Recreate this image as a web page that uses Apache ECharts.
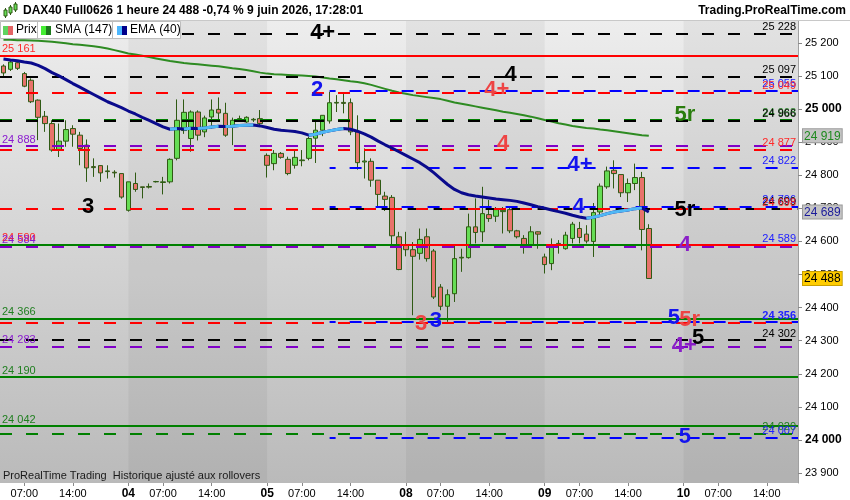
<!DOCTYPE html>
<html><head><meta charset="utf-8">
<script src="https://cdn.jsdelivr.net/npm/echarts@6/dist/echarts.min.js"></script>
<style>html,body{margin:0;padding:0;background:#fff}#c{width:850px;height:500px}</style>
</head><body><div id="c"></div>
<script>
// ---------- DATA ----------
const sessionDays = ['03','04','05','08','09','10'];
const firstHourDay0 = 4, sessionOpen = 2, sessionClose = 21;
const visibleSlots = 115;
const xLabelHours = [7, 14];

const opens  = [25130,25120,25140,25107,25087,25027,24978,24956,24878,24903,24941,24921,24891,24826,24829,24813,24809,24805,24694,24775,24765,24766,24780,24778,24780,24851,24935,24911,24991,24931,24976,24999,24987,24946,24969,24961,24967,24971,24860,24835,24866,24848,24830,24844,24851,24912,24936,24964,25018,25020,25019,24931,24840,24842,24785,24737,24733,24614,24590,24575,24564,24614,24571,24462,24404,24442,24550,24551,24644,24629,24681,24676,24690,24696,24632,24609,24588,24629,24553,24533,24594,24578,24609,24639,24622,24600,24689,24765,24815,24802,24747,24775,24793,24639];
const closes = [25109,25142,25123,25069,25022,24975,24956,24876,24903,24938,24924,24881,24822,24823,24807,24811,24807,24734,24780,24757,24763,24764,24781,24780,24848,24966,24990,24991,24921,24973,24997,24988,24921,24966,24971,24975,24969,24956,24830,24866,24854,24805,24854,24846,24911,24936,24981,25019,25020,25017,24931,24838,24843,24785,24742,24727,24617,24515,24575,24555,24606,24548,24432,24404,24439,24548,24552,24644,24627,24684,24669,24696,24694,24632,24614,24588,24629,24622,24530,24583,24589,24619,24652,24612,24601,24687,24767,24813,24805,24747,24775,24793,24636,24488];
const lows   = [25100,25115,25118,25066,25018,24906,24931,24871,24855,24886,24886,24830,24780,24795,24780,24790,24793,24729,24690,24750,24730,24760,24778,24742,24775,24845,24925,24871,24905,24915,24941,24966,24916,24891,24962,24958,24961,24946,24793,24815,24850,24800,24820,24827,24845,24837,24918,24956,24991,24987,24921,24817,24790,24765,24702,24692,24588,24513,24555,24377,24545,24539,24426,24392,24357,24417,24508,24548,24594,24598,24659,24659,24624,24625,24609,24563,24583,24578,24503,24513,24563,24575,24594,24594,24594,24553,24680,24759,24760,24734,24719,24755,24573,24488];
const highs  = [25135,25150,25145,25112,25093,25029,24994,24966,24956,24966,24951,24931,24908,24851,24830,24830,24815,24805,24780,24808,24765,24775,24783,24795,24851,25029,25029,24996,24996,24980,25029,25035,25019,24974,24980,24978,24973,24997,24866,24876,24870,24856,24876,24876,24916,24961,24981,25052,25042,25047,25032,24981,24881,24851,24785,24750,24740,24629,24629,24598,24639,24639,24577,24471,24455,24588,24578,24684,24730,24765,24725,24704,24704,24704,24635,24619,24646,24630,24563,24609,24604,24629,24659,24659,24649,24716,24775,24826,24845,24802,24790,24835,24810,24652];

const sma147 = [25209,25209,25208,25208,25207,25206,25205,25203,25201,25199,25196,25194,25192,25190,25187,25183,25178,25173,25168,25165,25161,25157,25153,25149,25145,25142,25139,25137,25135,25133,25131,25129,25126,25123,25121,25118,25114,25110,25107,25105,25104,25103,25102,25101,25100,25098,25095,25092,25090,25087,25084,25082,25078,25073,25067,25061,25055,25050,25046,25042,25039,25036,25033,25030,25025,25020,25016,25012,25008,25004,25000,24996,24992,24989,24985,24981,24977,24972,24967,24962,24957,24953,24949,24946,24943,24941,24938,24936,24933,24930,24927,24924,24921,24919];
const ema40 = [25151,25148,25146,25142,25139,25132,25122,25110,25100,25089,25077,25066,25055,25044,25033,25022,25013,25004,24994,24985,24975,24966,24956,24946,24939,24941,24940,24942,24941,24943,24946,24948,24947,24948,24950,24951,24952,24949,24944,24939,24936,24934,24932,24928,24921,24924,24930,24934,24938,24941,24939,24933,24925,24915,24903,24892,24882,24871,24860,24849,24838,24824,24808,24790,24772,24757,24747,24741,24737,24734,24731,24728,24726,24724,24721,24716,24711,24705,24700,24695,24690,24685,24679,24674,24670,24673,24678,24684,24689,24692,24695,24699,24701,24689];

const yTickValues = [23900,24000,24100,24200,24300,24400,24500,24600,24700,24800,24900,25000,25100,25200];

// horizontal levels
const levelValues = [25228,25161,25097,25055,25049,24968,24966,24888,24877,24822,24706,24699,24698,24589,24589,24590,24584,24366,24356,24354,24302,24283,24190,24042,24020,24007];
const levelColor  = ['k','r','k','b','r','g','k','p','r','b','b','k','r','b','g','r','p','g','b','r','k','p','g','g','g','b'];
const levelKind   = ['d','s','d','d','d','d','d','d','d','d','d','d','d','d','s','h','d','s','d','d','d','d','s','s','d','d'];
const levelFrom   = [null,null,null,47,null,null,null,null,null,47,47,47,null,47,null,null,null,null,47,null,null,null,null,null,null,47];
const levelSide   = ['R','L','R','R','R','R','R','L','R','R','R','R','R','R','','L','L','L','R','','R','L','L','L','R','R'];
// red solid segments at 24 590 (from slot, to slot)
const redSegValue = 24590;
const redSegs = [[57.1,67.1],[78.2,81.2],[93.2,114.5]];

// letter annotations
const annSlots  = [46.0, 45.2, 73.1, 71.1, 72.0, 12.2, 98.2, 83.1, 82.9, 98.2, 98.2, 60.2, 62.3, 96.6, 98.9, 98.1, 100.1, 98.2];
const annValues = [25229,25058,25102,25057,24895,24703,24983,24830,24705,24696,24590,24351,24359,24369,24362,24283,24307,24008];
const annTexts  = ['4+','2','4','4+','4','3','5r','4+','4','5r','4','3','3','5','5r','4+','5','5'];
const annColors = ['k','b','k','r','r','k','g','b','b','k','p','r','b','b','r','p','k','b'];

// ---------- BUILD ----------
const lineCol = {k:'#000000', r:'#ff0000', b:'#0000ff', g:'#008000', p:'#8000c8'};
const textCol = {k:'#000000', r:'#ff2a2a', b:'#2020ff', g:'#1f7f1f', p:'#8a1ad0'};
const annCol  = {k:'#000000', r:'#ee4444', b:'#1414ee', g:'#2a7d0e', p:'#8a1ec8'};
const FONT = '"Liberation Sans", Arial, sans-serif';
const fmt = v => { const s = String(Math.round(v)); return s.slice(0, s.length - 3) + ' ' + s.slice(-3); };

const cats = [];
sessionDays.forEach((d, di) => {
  for (let h = (di === 0 ? firstHourDay0 : sessionOpen); h <= sessionClose; h++) cats.push(d + '|' + h);
});
cats.length = visibleSlots;
const hourOf = c => +c.split('|')[1];
const dayOf = c => c.split('|')[0];

const candles = opens.map((o, i) => [o, closes[i], lows[i], highs[i]]);

// rising EMA pieces drawn light blue
const emaLight = [];
for (let i = 1; i < ema40.length; i++) {
  if (ema40[i] > ema40[i - 1]) {
    const prevRising = i > 1 && ema40[i - 1] > ema40[i - 2];
    if (!prevRising) { emaLight.push([i - 0.5, '-']); emaLight.push([i - 1, ema40[i - 1]]); }
    emaLight.push([i, ema40[i]]);
  }
}

// day bands (darker on alternate days)
const dayStart = sessionDays.map(d => cats.findIndex(c => dayOf(c) === d && hourOf(c) === sessionOpen));
const bands = [];
for (let di = 1; di < sessionDays.length; di += 2) {
  const s = dayStart[di];
  const e = di + 1 < sessionDays.length ? dayStart[di + 1] : visibleSlots - 0.5;
  bands.push([{xAxis: s}, {xAxis: e}]);
}

const xEnd = visibleSlots - 0.5;
const mlData = [];
levelValues.forEach((v, i) => {
  const kind = levelKind[i];
  const ls = {
    color: kind === 'h' ? 'rgba(0,0,0,0)' : lineCol[levelColor[i]], width: 2,
    type: kind === 'd' ? [12, 14] : 'solid',
    dashOffset: levelColor[i] === 'b' ? 6 : 0
  };
  const side = levelSide[i];
  const label = side ? {
    show: true, formatter: fmt(v), position: side === 'R' ? 'insideEndTop' : 'insideStartTop',
    distance: [2, 1], color: textCol[levelColor[i]], fontSize: 11, fontFamily: FONT,
    fontWeight: (levelColor[i] === 'b' && v < 24400 && v > 24300) ? 'bold' : 'normal'
  } : {show: false};
  if (levelFrom[i] == null) {
    mlData.push({yAxis: v, lineStyle: ls, label: label});
  } else {
    mlData.push([{coord: [levelFrom[i], v], lineStyle: ls, label: label}, {coord: [xEnd, v]}]);
  }
});
redSegs.forEach(s => {
  mlData.push([{coord: [s[0], redSegValue], lineStyle: {color: lineCol.r, width: 2, type: 'solid'}, label: {show: false}}, {coord: [s[1], redSegValue]}]);
});

const annData = annSlots.map((s, i) => ({
  value: [s, annValues[i]],
  label: {color: annCol[annColors[i]]}
}));

const last = closes.length - 1;
const badgeVals = [sma147[sma147.length - 1], ema40[ema40.length - 1], closes[last]];

const chart = echarts.init(document.getElementById('c'), null, {renderer: 'canvas'});
chart.setOption({
  animation: false,
  backgroundColor: '#ffffff',
  grid: {
    left: 0, right: 52, top: 21, bottom: 17, show: true, borderWidth: 0,
    backgroundColor: new echarts.graphic.LinearGradient(0, 0, 0, 1, [
      {offset: 0, color: '#ededed'}, {offset: 1, color: '#bababa'}])
  },
  xAxis: [{
    type: 'category', data: cats, boundaryGap: true,
    axisLine: {show: false},
    axisTick: {show: true, alignWithLabel: true, length: 3, lineStyle: {color: '#888'},
      interval: (i, c) => hourOf(c) === sessionOpen || xLabelHours.includes(hourOf(c))},
    axisLabel: {
      margin: 5, fontSize: 11, color: '#000', fontFamily: FONT,
      interval: (i, c) => hourOf(c) === sessionOpen || xLabelHours.includes(hourOf(c)),
      formatter: c => hourOf(c) === sessionOpen ? '{d|' + dayOf(c) + '}' : String(hourOf(c)).padStart(2, '0') + ':00',
      rich: {d: {fontWeight: 'bold', fontSize: 12, color: '#000', fontFamily: FONT}}
    },
    splitLine: {show: false}
  }, {
    type: 'value', min: -0.5, max: xEnd, show: false
  }],
  yAxis: [{
    type: 'value', position: 'right', min: 23870, max: 25266,
    splitLine: {show: false},
    axisLine: {show: true, onZero: false, lineStyle: {color: '#a0a0a0'}},
    axisTick: {show: true, length: 4, lineStyle: {color: '#888'}, customValues: yTickValues},
    axisLabel: {
      customValues: yTickValues, margin: 7, fontSize: 11, color: '#000', fontFamily: FONT,
      formatter: v => v % 1000 === 0 ? '{b|' + fmt(v) + '}' : fmt(v),
      rich: {b: {fontWeight: 'bold', fontSize: 12, color: '#000', fontFamily: FONT}}
    }
  }, {
    type: 'value', position: 'right', min: 23870, max: 25266,
    splitLine: {show: false}, axisLine: {show: false, onZero: false}, axisTick: {show: false},
    axisLabel: {
      customValues: badgeVals, margin: 5, fontFamily: FONT,
      formatter: v => {
        if (v === badgeVals[2]) return '{p|' + fmt(v) + '}';
        if (v === badgeVals[0]) return '{s|' + fmt(v) + '}';
        return '{e|' + fmt(v) + '}';
      },
      rich: {
        p: {backgroundColor: '#ffcc00', borderColor: '#c9a000', borderWidth: 1, padding: [1, 1, 0, 1], color: '#000', fontSize: 12, fontFamily: FONT},
        s: {backgroundColor: '#c4c4c4', borderColor: '#9a9a9a', borderWidth: 1, padding: [1, 1, 0, 1], color: '#1f8a1f', fontSize: 12, fontFamily: FONT},
        e: {backgroundColor: '#c4c4c4', borderColor: '#9a9a9a', borderWidth: 1, padding: [1, 1, 0, 1], color: '#1a1a9a', fontSize: 12, fontFamily: FONT}
      }
    }
  }],
  series: [{
    name: 'levels', type: 'line', xAxisIndex: 1, yAxisIndex: 0, data: [], z: 1,
    markArea: {silent: true, itemStyle: {color: 'rgba(0,0,0,0.045)'}, data: bands},
    markLine: {silent: true, symbol: ['none', 'none'], animation: false, data: mlData}
  }, {
    name: 'Prix', type: 'candlestick', xAxisIndex: 0, yAxisIndex: 0, data: candles, z: 3,
    barWidth: 5,
    itemStyle: {color: '#66dd55', color0: '#e8736b', borderColor: '#2f5a14', borderColor0: '#2f5a14', borderWidth: 1}
  }, {
    name: 'SMA (147)', type: 'line', xAxisIndex: 0, yAxisIndex: 0, data: sma147, z: 4,
    symbol: 'none', lineStyle: {color: '#2e8b22', width: 2}
  }, {
    name: 'EMA (40)', type: 'line', xAxisIndex: 0, yAxisIndex: 0, data: ema40, z: 5,
    symbol: 'none', lineStyle: {color: '#0a0a8c', width: 3}
  }, {
    name: 'EMA rise', type: 'line', xAxisIndex: 1, yAxisIndex: 0, data: emaLight, z: 6,
    symbol: 'none', connectNulls: false, lineStyle: {color: '#4fb8f5', width: 3}
  }, {
    name: 'marks', type: 'scatter', xAxisIndex: 1, yAxisIndex: 0, data: annData, z: 8,
    symbolSize: 2, itemStyle: {color: 'rgba(0,0,0,0)', opacity: 1},
    label: {show: true, position: 'inside', opacity: 1, formatter: p => annTexts[p.dataIndex],
      fontSize: 22, fontWeight: 'bold', fontFamily: FONT}
  }],
  graphic: [
    {type: 'rect', shape: {x: 0, y: 0, width: 850, height: 20}, style: {fill: '#ffffff'}, z: 10},
    {type: 'line', shape: {x1: 0, y1: 20.5, x2: 850, y2: 20.5}, style: {stroke: '#c8c8c8', lineWidth: 1}, z: 10},
    // title icon
    {type: 'line', shape: {x1: 5.5, y1: 8, x2: 5.5, y2: 18}, style: {stroke: '#2f5a14'}, z: 11},
    {type: 'rect', shape: {x: 4, y: 10, width: 3, height: 6}, style: {fill: '#66dd55', stroke: '#2f5a14'}, z: 11},
    {type: 'line', shape: {x1: 10.5, y1: 5, x2: 10.5, y2: 15}, style: {stroke: '#2f5a14'}, z: 11},
    {type: 'rect', shape: {x: 9, y: 7, width: 3, height: 6}, style: {fill: '#66dd55', stroke: '#2f5a14'}, z: 11},
    {type: 'line', shape: {x1: 15.5, y1: 2, x2: 15.5, y2: 12}, style: {stroke: '#2f5a14'}, z: 11},
    {type: 'rect', shape: {x: 14, y: 4, width: 3, height: 6}, style: {fill: '#66dd55', stroke: '#2f5a14'}, z: 11},
    {type: 'text', x: 23, y: 5, style: {text: 'DAX40 Full0626 1 heure 24 488 -0,74 % 9 juin 2026, 17:28:01', font: 'bold 12px ' + FONT, fill: '#000'}, z: 11},
    {type: 'text', x: 846, y: 5, style: {text: 'Trading.ProRealTime.com', font: 'bold 12px ' + FONT, fill: '#000', align: 'right'}, z: 11},
    // legend box
    {type: 'rect', shape: {x: 0.5, y: 21.5, width: 180, height: 17}, style: {fill: '#ffffff', stroke: '#bdbdbd'}, z: 11},
    {type: 'line', shape: {x1: 37.5, y1: 22, x2: 37.5, y2: 38}, style: {stroke: '#bdbdbd'}, z: 12},
    {type: 'line', shape: {x1: 112.5, y1: 22, x2: 112.5, y2: 38}, style: {stroke: '#bdbdbd'}, z: 12},
    {type: 'rect', shape: {x: 3, y: 26, width: 5, height: 9}, style: {fill: '#5fd35f'}, z: 12},
    {type: 'rect', shape: {x: 8, y: 26, width: 5, height: 9}, style: {fill: '#e46464'}, z: 12},
    {type: 'text', x: 16, y: 24, style: {text: 'Prix', font: '12px ' + FONT, fill: '#000'}, z: 12},
    {type: 'rect', shape: {x: 41, y: 26, width: 5, height: 9}, style: {fill: '#44ee33'}, z: 12},
    {type: 'rect', shape: {x: 46, y: 26, width: 5, height: 9}, style: {fill: '#1d7a1d'}, z: 12},
    {type: 'text', x: 55, y: 24, style: {text: 'SMA (147)', font: '12px ' + FONT, fill: '#000'}, z: 12},
    {type: 'rect', shape: {x: 117, y: 26, width: 5, height: 9}, style: {fill: '#4db8ff'}, z: 12},
    {type: 'rect', shape: {x: 122, y: 26, width: 5, height: 9}, style: {fill: '#00008b'}, z: 12},
    {type: 'text', x: 130, y: 24, style: {text: 'EMA (40)', font: '12px ' + FONT, fill: '#000'}, z: 12},
    // bottom note
    {type: 'text', x: 3, y: 470, style: {text: 'ProRealTime Trading  Historique ajusté aux rollovers', font: '11px ' + FONT, fill: '#1a1a1a'}, z: 11}
  ]
});
</script></body></html>
